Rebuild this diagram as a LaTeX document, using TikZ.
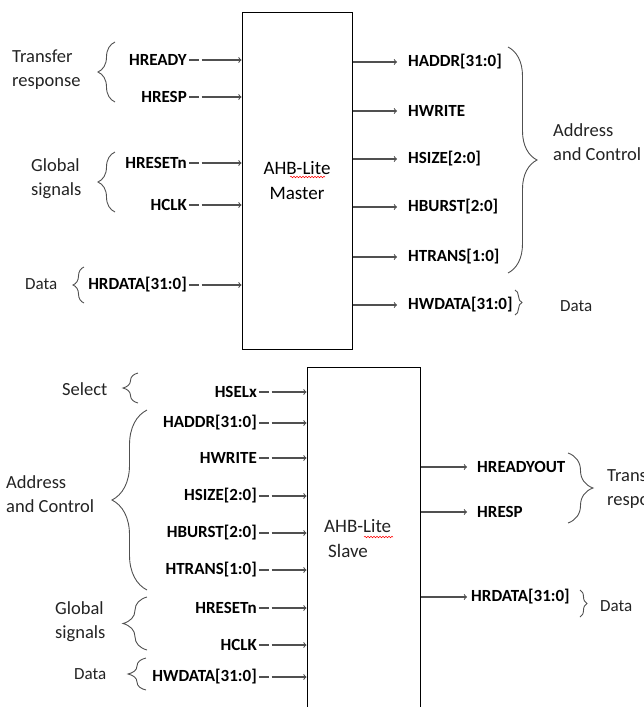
\documentclass[tikz,border=0pt]{standalone}
\usepackage{fontspec}
\setmainfont{Carlito}
\usetikzlibrary{arrows, calc, positioning, decorations.pathreplacing, decorations.pathmorphing}
\definecolor{wire}{RGB}{80,80,80}
\definecolor{ink}{RGB}{35,35,35}
\tikzstyle{stdText} = [align=left, anchor=west, inner sep=0pt, text=ink, font=\fontsize{18.5}{24}\selectfont]
\tikzstyle{smallText} = [stdText, font=\fontsize{17}{20}\selectfont]
\tikzstyle{sig} = [inner sep=2pt, text=black, font=\fontsize{17}{20}\selectfont\bfseries]
\tikzstyle{block} = [draw, rectangle, line width=1pt, align=center, font=\fontsize{19}{25}\selectfont]
\tikzstyle{ar} = [->, draw=wire, line width=1.1pt]
\tikzstyle{arIn} = [ar, dash pattern={on 10pt off 2.5pt on 300pt off 0pt}]
\tikzstyle{squiggle} = [red, line width=.5pt, decorate, decoration={snake, amplitude=.8pt, segment length=3pt}]
\tikzset{brc/.style={decorate, decoration={brace, amplitude=#1}, draw=wire, line width=.9pt}}

\begin{document}
\begin{tikzpicture}[x=1pt, y=-1pt]
    \clip (0,0) rectangle (644,707);

    % the master
    \node (master) [block, minimum width=110pt, minimum height=337pt] at (297,180.5) {AHB-Lite \\ Master};
    \draw [squiggle] (290,177) -- (325,177);

    \foreach \name/\txt/\y in {hready/HREADY/60, hresp/HRESP/97, hresetn/HRESETn/163, hclk/HCLK/205, hrdata/HRDATA[31:0]/285}{
        \node (m\name) [sig, anchor=east] at (189,\y) {\txt};
        \draw [arIn] (m\name.east) -- (m\name.east -| master.west);
    }
    \foreach \name/\txt/\y in {haddr/HADDR[31:0]/62, hwrite/HWRITE/111, hsize/HSIZE[2:0]/159, hburst/HBURST[2:0]/207, htrans/HTRANS[1:0]/257, hwdata/HWDATA[31:0]/305}{
        \node (m\name) [sig, anchor=west] at (406,\y) {\txt};
        \draw [ar, shorten >=9pt] (master.east |- m\name.west) -- (m\name.west);
    }

    \node (mTransfer) [stdText] at (12,70) {Transfer \\ response};
    \node (mGlobal) [stdText] at (31,179) {Global \\ signals};
    \node (mDataIn) [smallText] at (25,284) {Data};
    \node (mAddr) [stdText] at (553,142) {Address \\ and Control};
    \node (mDataOut) [smallText] at (560,306) {Data};

    % the slave
    \node (slave) [block, minimum width=113pt, minimum height=360pt] at (363.5,547) {};
    \node (slaveText) [stdText, font=\fontsize{19}{25}\selectfont] at (324,539) {AHB-Lite \\ \hspace{4pt}Slave};
    \draw [squiggle] (364,537) -- (393,537);

    \foreach \name/\txt/\y in {hselx/HSELx/392, haddr/HADDR[31:0]/423, hwrite/HWRITE/458, hsize/HSIZE[2:0]/496, hburst/HBURST[2:0]/533, htrans/HTRANS[1:0]/570, hresetn/HRESETn/608, hclk/HCLK/645, hwdata/HWDATA[31:0]/677}{
        \node (s\name) [sig, anchor=east] at (259,\y) {\txt};
        \draw [arIn] (s\name.east) -- (s\name.east -| slave.west);
    }
    \node (sreadyout) [sig, anchor=west] at (475,467) {HREADYOUT};
    \node (sresp) [sig, anchor=west] at (475,512) {HRESP};
    \node (srdata) [sig, anchor=west] at (469,597) {HRDATA[31:0]};
    \draw [ar, shorten >=8pt] (slave.east |- sreadyout.west) -- (sreadyout.west);
    \draw [ar, shorten >=8pt] (slave.east |- sresp.west) -- (sresp.west);
    \draw [ar, shorten >=2pt] (slave.east |- srdata.west) -- (srdata.west);

    \node (sSelect) [stdText] at (62,389) {Select};
    \node (sAddr) [stdText] at (6,494) {Address \\ and Control};
    \node (sGlobal) [stdText] at (55,622) {Global \\ signals};
    \node (sDataIn) [smallText] at (74,674) {Data};
    \node (sTransfer) [stdText] at (607,489) {Transfer \\ response};
    \node (sDataOut) [smallText] at (600,606) {Data};

    % the braces
    \foreach \xa/\ya/\yb/\amp in {115/102/42/17, 115/212/152/17, 84/303/267/11, 508/47/273/29, 515/290/315/7,
        138/403/373/15, 147/590/410/35, 147/650/597/24, 146/690/658/18, 568/453/523/25, 580/590/617/7}{
        \draw [brc=\amp pt] (\xa,\ya) -- (\xa,\yb);
    }
\end{tikzpicture}
\end{document}
